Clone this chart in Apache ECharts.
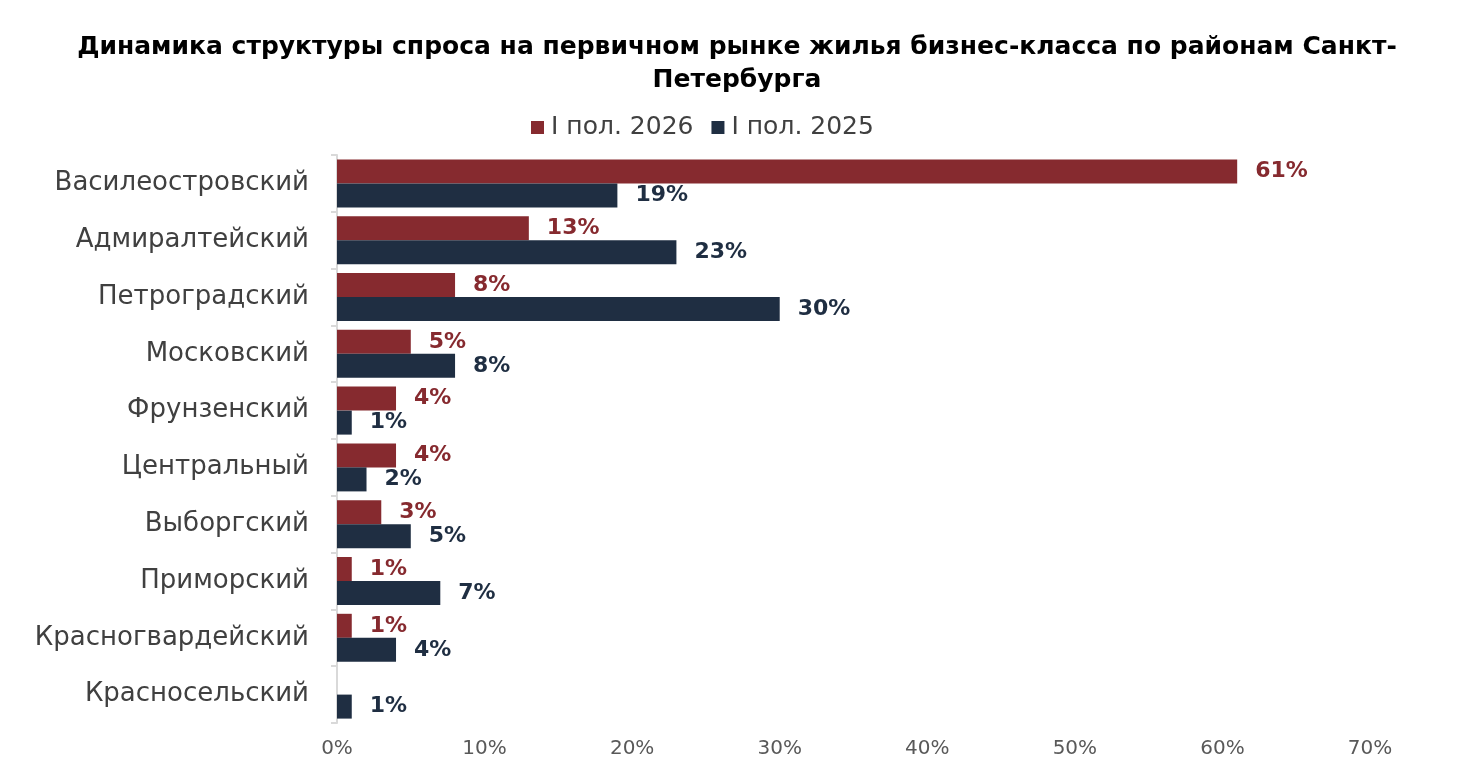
<!DOCTYPE html>
<html lang="ru">
<head>
    <meta charset="UTF-8">
    <title>Спрос бизнес-класс СПб</title>
    <script src="https://cdn.jsdelivr.net/npm/echarts@6/dist/echarts.min.js"></script>
    <style>
        html, body { margin: 0; padding: 0; background: #fff; }
    </style>
</head>
<body>
<div id="main" style="width: 1474px;height: 774px"></div>

<script>
    var districts = ['Василеостровский', 'Адмиралтейский', 'Петроградский', 'Московский', 'Фрунзенский',
        'Центральный', 'Выборгский', 'Приморский', 'Красногвардейский', 'Красносельский'];
    var h1_2026 = [61, 13, 8, 5, 4, 4, 3, 1, 1, null];
    var h1_2025 = [19, 23, 30, 8, 1, 2, 5, 7, 4, 1];
    var xTicks = [0, 10, 20, 30, 40, 50, 60, 70];

    var RED = '#862a2f';
    var NAVY = '#1f2e42';
    var FONT = '"DejaVu Sans", sans-serif';

    var chartDom = document.getElementById('main');
    var myChart = echarts.init(chartDom);
    var option;

    option = {
        animation: false,
        title: {
            text: 'Динамика структуры спроса на первичном рынке жилья бизнес-класса по районам Санкт-\nПетербурга',
            left: 'center',
            top: 26,
            textStyle: {
                fontFamily: '"DejaVu Sans", sans-serif',
                fontWeight: 'bold',
                fontSize: 25,
                lineHeight: 33,
                color: '#000'
            }
        },
        legend: {
            data: ['I пол. 2026', 'I пол. 2025'],
            top: 110,
            left: 526,
            itemWidth: 13,
            itemHeight: 13,
            itemGap: 18,
            icon: 'rect',
            textStyle: {
                fontFamily: FONT,
                fontSize: 25,
                color: '#404040',
                padding: [0, 0, 0, 2]
            }
        },
        grid: {
            left: 337,
            right: 104,
            top: 155,
            bottom: 51,
            containLabel: false
        },
        xAxis: {
            type: 'value',
            min: xTicks[0],
            max: xTicks[xTicks.length - 1],
            interval: 10,
            splitLine: { show: false },
            axisLine: { show: false },
            axisTick: { show: false },
            axisLabel: {
                formatter: '{value}%',
                fontFamily: FONT,
                fontSize: 20,
                color: '#595959',
                margin: 16
            }
        },
        yAxis: {
            type: 'category',
            inverse: true,
            data: districts,
            axisLine: { show: true, lineStyle: { color: '#d9d9d9', width: 2 } },
            axisTick: { show: true, length: 6, lineStyle: { color: '#d9d9d9', width: 2 } },
            axisLabel: {
                fontFamily: FONT,
                fontSize: 26,
                color: '#404040',
                margin: 28
            }
        },
        series: [
            {
                name: 'I пол. 2026',
                type: 'bar',
                data: h1_2026,
                barWidth: 24,
                barGap: '0%',
                itemStyle: { color: RED },
                label: {
                    show: true,
                    position: 'right',
                    distance: 18,
                    formatter: '{c}%',
                    fontFamily: FONT,
                    fontWeight: 'bold',
                    fontSize: 22,
                    color: RED
                }
            },
            {
                name: 'I пол. 2025',
                type: 'bar',
                data: h1_2025,
                barWidth: 24,
                barGap: '0%',
                itemStyle: { color: NAVY },
                label: {
                    show: true,
                    position: 'right',
                    distance: 18,
                    formatter: '{c}%',
                    fontFamily: FONT,
                    fontWeight: 'bold',
                    fontSize: 22,
                    color: NAVY
                }
            }
        ]
    };

    myChart.setOption(option);
</script>
</body>
</html>
